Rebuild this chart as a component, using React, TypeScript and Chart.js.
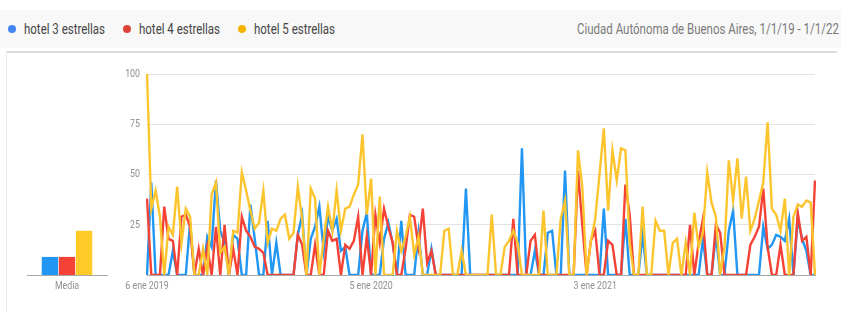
import React, { useEffect, useRef } from 'react';
import { Chart, registerables } from 'chart.js';
Chart.register(...registerables);

const seriesNames = ['hotel 3 estrellas', 'hotel 4 estrellas', 'hotel 5 estrellas'];
const lineColors = ['#2196f3', '#f44336', '#fcc42d'];
const dotColors = ['#4285f4', '#db4437', '#f4b400'];
const barColors = ['#2196f3', '#f44336', '#ffca28'];
const regionText = 'Ciudad Autónoma de Buenos Aires, 1/1/19 - 1/1/22';
const tickLabels = ['6 ene 2019', '5 ene 2020', '3 ene 2021'];
const tickWeekIndexes = [0, 52, 104];
const yTicks = [0, 25, 50, 75, 100];
const averageLabel = ['Media'];
const averages = [9, 9, 22];

const hotel3 = [
  0, 46, 0, 0, 0, 0, 12, 0, 0, 0, 26, 0, 0, 0, 19, 14, 47, 22, 16, 0,
  20, 18, 0, 0, 35, 18, 0, 0, 27, 0, 16, 0, 0, 0, 0, 20, 30, 0, 18, 24,
  34, 12, 29, 22, 28, 12, 14, 0, 0, 0, 22, 31, 0, 0, 0, 18, 26, 16, 0, 27,
  0, 0, 0, 21, 0, 0, 13, 0, 0, 0, 0, 0, 0, 0, 43, 0, 0, 0, 0, 0,
  0, 0, 0, 0, 0, 0, 0, 63, 0, 0, 12, 0, 0, 21, 22, 0, 0, 52, 0, 0,
  0, 0, 0, 0, 0, 0, 33, 0, 0, 0, 0, 28, 0, 0, 0, 20, 0, 0, 0, 0,
  0, 0, 0, 0, 0, 0, 0, 0, 0, 18, 0, 0, 20, 0, 0, 22, 32, 0, 0, 0,
  0, 0, 0, 24, 13, 15, 20, 19, 17, 28, 0, 28, 18, 12, 0, 0,
];
const hotel4 = [
  38, 0, 0, 0, 34, 18, 17, 0, 29, 30, 24, 0, 13, 0, 14, 0, 24, 0, 25, 0,
  13, 0, 29, 22, 19, 14, 13, 11, 0, 0, 0, 0, 0, 0, 0, 20, 15, 0, 0, 15,
  0, 0, 22, 17, 18, 0, 15, 13, 17, 29, 0, 19, 0, 30, 16, 33, 24, 16, 0, 0,
  13, 30, 29, 14, 33, 6, 12, 0, 0, 0, 0, 0, 0, 0, 0, 0, 0, 0, 0, 0,
  0, 0, 0, 0, 0, 28, 0, 0, 0, 17, 20, 0, 0, 0, 0, 0, 0, 0, 0, 0,
  52, 25, 0, 17, 22, 0, 0, 17, 15, 0, 0, 45, 30, 0, 0, 0, 0, 0, 0, 0,
  0, 0, 0, 0, 0, 0, 25, 0, 16, 28, 0, 0, 25, 21, 0, 0, 0, 0, 0, 0,
  15, 19, 24, 43, 14, 0, 0, 15, 0, 0, 0, 31, 17, 19, 0, 47,
];
const hotel5 = [
  100, 33, 42, 29, 0, 24, 20, 44, 16, 33, 29, 0, 0, 13, 0, 40, 46, 11, 14, 0,
  22, 21, 51, 42, 32, 23, 26, 42, 16, 23, 22, 28, 30, 18, 21, 44, 28, 0, 43, 38,
  0, 18, 34, 22, 42, 22, 33, 34, 40, 45, 70, 30, 48, 0, 39, 0, 0, 0, 22, 12,
  19, 29, 10, 19, 0, 0, 0, 0, 0, 22, 23, 0, 0, 12, 0, 0, 0, 0, 0, 0,
  30, 0, 0, 14, 17, 22, 16, 0, 0, 0, 0, 0, 32, 0, 0, 0, 28, 37, 0, 0,
  62, 44, 0, 17, 28, 50, 73, 32, 62, 47, 63, 62, 16, 0, 0, 34, 0, 0, 27, 22,
  22, 0, 16, 18, 0, 16, 0, 31, 14, 21, 51, 36, 29, 0, 14, 57, 37, 58, 28, 49,
  22, 28, 37, 46, 76, 33, 30, 22, 38, 0, 29, 35, 34, 37, 36, 0,
];
const seriesValues = [hotel3, hotel4, hotel5];

const months = ['ene', 'feb', 'mar', 'abr', 'may', 'jun', 'jul', 'ago', 'sept', 'oct', 'nov', 'dic'];
const weekLabels = hotel3.map((_, i) => {
  const d = new Date(Date.UTC(2019, 0, 6 + i * 7));
  return `${d.getUTCDate()} ${months[d.getUTCMonth()]} ${d.getUTCFullYear()}`;
});

const FONT = 'Roboto, sans-serif';
const SQUEEZE = 0.8;

// Draws axis tick labels horizontally condensed, positioned by the chart's own scales.
const squeezedTicks = {
  id: 'squeezedTicks',
  afterDraw(chart: any, _args: any, opts: any) {
    const ctx = chart.ctx;
    const area = chart.chartArea;
    ctx.save();
    ctx.font = `11px ${FONT}`;
    ctx.fillStyle = '#8f8f8f';
    const xs = chart.scales.x;
    ctx.textBaseline = 'top';
    ctx.textAlign = 'center';
    (opts.xLabels || []).forEach((lab: string, k: number) => {
      const px = xs.getPixelForValue(opts.xIndexes[k]);
      ctx.save();
      ctx.translate(px, area.bottom + 6);
      ctx.scale(SQUEEZE, 1);
      ctx.fillText(lab, 0, 0);
      ctx.restore();
    });
    if (opts.yValues) {
      const ys = chart.scales.y;
      ctx.textAlign = 'right';
      ctx.textBaseline = 'middle';
      opts.yValues.forEach((v: number) => {
        if (v === 0) return;
        ctx.save();
        ctx.translate(area.left - 7, ys.getPixelForValue(v));
        ctx.scale(SQUEEZE, 1);
        ctx.fillText(String(v), 0, 0);
        ctx.restore();
      });
    }
    ctx.restore();
  },
};

export default function App() {
  const lineRef = useRef<HTMLCanvasElement>(null);
  const barRef = useRef<HTMLCanvasElement>(null);

  useEffect(() => {
    const line = new Chart(lineRef.current!, {
      type: 'line',
      data: {
        labels: weekLabels,
        datasets: seriesValues.map((vals, k) => ({
          label: seriesNames[k],
          data: vals,
          borderColor: lineColors[k],
          backgroundColor: lineColors[k],
          borderWidth: 2.4,
          pointRadius: 0,
          tension: 0,
          order: 3 - k,
        })),
      },
      options: {
        animation: false,
        responsive: false,
        maintainAspectRatio: false,
        layout: { padding: { top: 10, right: 20, left: 0, bottom: 0 } },
        plugins: {
          legend: { display: false },
          tooltip: { enabled: false },
          squeezedTicks: { xLabels: tickLabels, xIndexes: tickWeekIndexes, yValues: yTicks },
        } as any,
        scales: {
          x: {
            grid: { display: false, drawTicks: false },
            border: { display: true, color: '#a8a8a8', width: 1 },
            afterFit: (s: any) => { s.height = 25; },
            ticks: { display: false },
          },
          y: {
            min: 0,
            max: 100,
            afterFit: (s: any) => { s.width = 47; },
            afterBuildTicks: (s: any) => { s.ticks = yTicks.map((v) => ({ value: v })); },
            grid: { color: '#e3e3e3', drawTicks: false, lineWidth: 1 },
            border: { display: false },
            ticks: { display: false },
          },
        },
      },
      plugins: [squeezedTicks],
    });

    const bar = new Chart(barRef.current!, {
      type: 'bar',
      data: {
        labels: averageLabel,
        datasets: averages.map((v, k) => ({
          label: seriesNames[k],
          data: [v],
          backgroundColor: barColors[k],
          borderWidth: 0,
          barPercentage: 0.96,
          categoryPercentage: 0.64,
        })),
      },
      options: {
        animation: false,
        responsive: false,
        maintainAspectRatio: false,
        layout: { padding: { top: 10, right: 8, left: 7, bottom: 0 } },
        plugins: {
          legend: { display: false },
          tooltip: { enabled: false },
          squeezedTicks: { xLabels: averageLabel, xIndexes: [0] },
        } as any,
        scales: {
          x: {
            grid: { display: false, drawTicks: false },
            border: { display: true, color: '#a8a8a8', width: 1 },
            afterFit: (s: any) => { s.height = 25; },
            ticks: { display: false },
          },
          y: { display: false, min: 0, max: 100 },
        },
      },
      plugins: [squeezedTicks],
    });

    return () => {
      line.destroy();
      bar.destroy();
    };
  }, []);

  const textStyle: React.CSSProperties = {
    display: 'inline-block',
    transform: `scaleX(${0.82})`,
    transformOrigin: 'left center',
    whiteSpace: 'nowrap',
  };

  return (
    <div style={{ position: 'fixed', left: 0, top: 0, width: 841, height: 311, background: '#fff', overflow: 'hidden', fontFamily: FONT }}>
      <div style={{ position: 'absolute', left: 0, top: 10, width: 841, height: 38, background: '#f8f8f8' }}>
        {seriesNames.map((n, k) => (
          <div key={n} style={{ position: 'absolute', left: 8 + k * 115, top: 0, height: 38, display: 'flex', alignItems: 'center', whiteSpace: 'nowrap' }}>
            <span style={{ width: 8, height: 8, borderRadius: 4, background: dotColors[k], display: 'inline-block', marginRight: 8 }} />
            <span style={{ ...textStyle, fontSize: 14, color: '#444' }}>{n}</span>
          </div>
        ))}
        <div style={{ position: 'absolute', left: 577, top: 0, height: 38, display: 'flex', alignItems: 'center', whiteSpace: 'nowrap' }}>
          <span style={{ ...textStyle, fontSize: 14, color: '#7a7a7a' }}>{regionText}</span>
        </div>
      </div>
      <div style={{ position: 'absolute', left: 6, top: 51, width: 830, height: 260, borderTop: '2px solid #dcdcdc', borderLeft: '1px solid #e8e8e8', background: '#fff' }} />
      <canvas ref={barRef} width={95} height={236} style={{ position: 'absolute', left: 20, top: 64, width: 95, height: 236 }} />
      <canvas ref={lineRef} width={735} height={236} style={{ position: 'absolute', left: 100, top: 64, width: 735, height: 236 }} />
    </div>
  );
}
